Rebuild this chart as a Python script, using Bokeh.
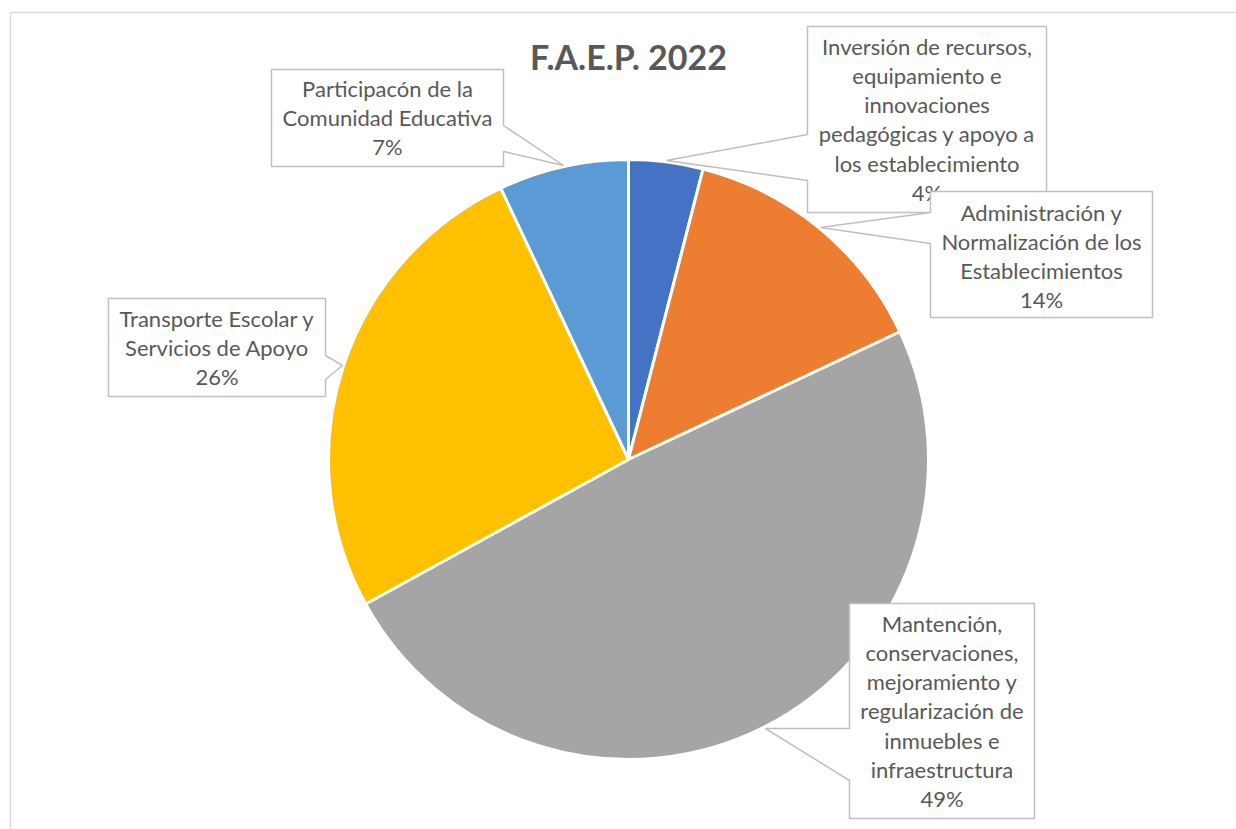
import math
from bokeh.plotting import figure
from bokeh.models import Range1d, ColumnDataSource
from bokeh.embed import file_html
from bokeh.resources import INLINE
from bokeh.core.properties import value

# ---------------- data ----------------
title = "F.A.E.P. 2022"
categories = [
    "Inversión de recursos,\nequipamiento e\ninnovaciones\npedagógicas y apoyo a\nlos establecimiento",
    "Administración y\nNormalización de los\nEstablecimientos",
    "Mantención,\nconservaciones,\nmejoramiento y\nregularización de\ninmuebles e\ninfraestructura",
    "Transporte Escolar y\nServicios de Apoyo",
    "Participacón de la\nComunidad Educativa",
]
values = [4, 14, 49, 26, 7]
colors = ["#4472C4", "#ED7D31", "#A5A5A5", "#FFC000", "#5B9BD5"]

# ---------------- layout (screen px) ----------------
W, H = 1236, 829
FONT = "Lato"
TXT = "#595959"
BOX_LINE = "#BFBFBF"
CX, CY, R = 628, 459, 300

# callout boxes: left, top, right, bottom, pointer side, edge y1, edge y2, tip x, tip y, first line y
boxes = [
    (807, 26, 1046, 212, "left", 134, 180, 666, 160, 45.5),
    (930, 191, 1152, 317, "left", 212, 243, 820, 227, 211.5),
    (849, 603, 1034, 818, "left", 728, 780, 765, 728, 622.5),
    (108, 298, 325, 396, "right", 355, 379, 342, 365, 317.5),
    (271, 69, 503, 166, "right", 125, 151, 563, 165, 87.5),
]
LINE_STEP = 29.3
draw_order = [4, 3, 2, 0, 1]


def Y(s):
    return -s


p = figure(width=W, height=H, output_backend="svg", toolbar_location=None,
           x_range=Range1d(0, W), y_range=Range1d(-H, 0),
           x_axis_location=None, y_axis_location=None, min_border=0)
p.grid.visible = False
p.outline_line_color = None
p.background_fill_color = "white"
p.border_fill_color = "white"

# chart area border
p.line([10, 1240], [Y(12), Y(12)], line_color="#D9D9D9", line_width=1.3)
p.line([10, 10], [Y(12), Y(840)], line_color="#D9D9D9", line_width=1.3)

# pie
total = float(sum(values))
starts, ends = [], []
cum = 0.0
for v in values:
    starts.append(math.pi / 2 - 2 * math.pi * cum / total)
    cum += v
    ends.append(math.pi / 2 - 2 * math.pi * cum / total)
src = ColumnDataSource(dict(x=[CX] * len(values), y=[Y(CY)] * len(values),
                            start=starts, end=ends, color=colors))
p.wedge(x="x", y="y", radius=R, start_angle="start", end_angle="end",
        direction="clock", fill_color="color", line_color="white", line_width=3,
        source=src)

# title
p.text(x=[CX], y=[Y(56)], text=[title], text_align="center", text_baseline="middle",
       text_font=value(FONT), text_font_style="bold", text_font_size="34px",
       text_color=TXT)

# callouts
for i in draw_order:
    l, t, r, b, side, y1, y2, tx, ty, ly = boxes[i]
    if side == "left":
        xs = [l, r, r, l, l, tx, l]
        ys = [t, t, b, b, y2, ty, y1]
    else:
        xs = [l, r, r, tx, r, r, l]
        ys = [t, t, y1, ty, y2, b, b]
    p.patch(xs, [Y(v) for v in ys], fill_color="white", line_color=BOX_LINE,
            line_width=1.5)
    lines = categories[i].split("\n") + [f"{values[i]}%"]
    cx = (l + r) / 2
    p.text(x=[cx] * len(lines), y=[Y(ly + k * LINE_STEP) for k in range(len(lines))],
           text=lines, text_align="center", text_baseline="middle",
           text_font=value(FONT), text_font_size="22px", text_color=TXT)

open("out.html", "w").write(file_html(p, INLINE))
